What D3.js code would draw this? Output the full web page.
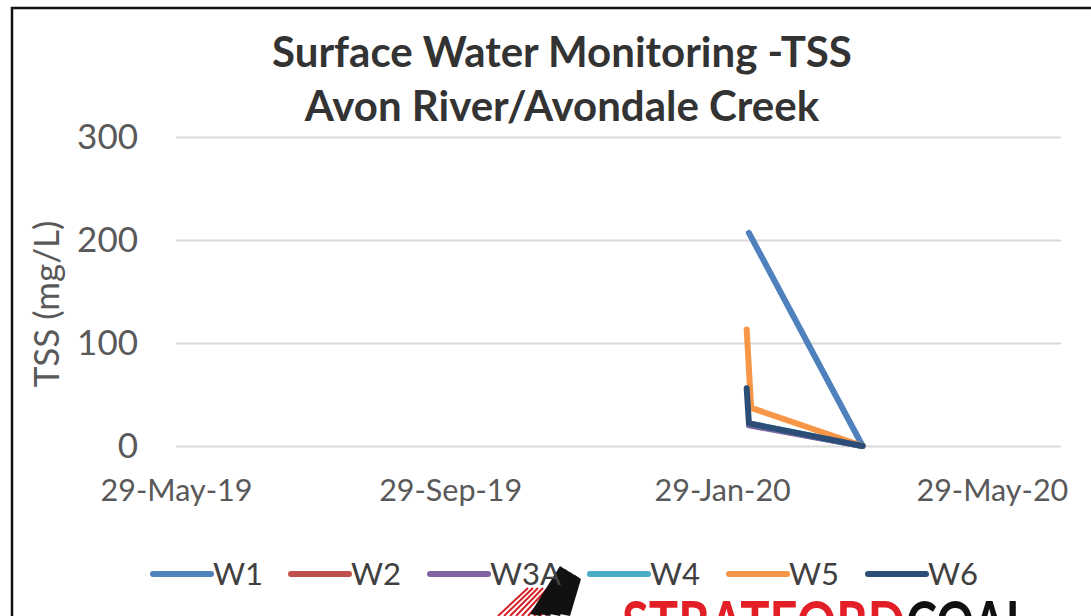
<!DOCTYPE html>
<html>
<head>
<meta charset="utf-8">
<script src="https://cdn.jsdelivr.net/npm/d3@7"></script>
<style>
  body { margin: 0; background: #fff; overflow: hidden; }
  text { font-family: Lato, "Open Sans", sans-serif; }
</style>
</head>
<body>
<script>
const w = 1091;
const h = 616;

// chart data
const seriesNames = ['W1', 'W2', 'W3A', 'W4', 'W5', 'W6'];
const seriesColors = ['#4f81bd', '#c0504d', '#8064a2', '#4bacc6', '#f79646', '#2c4d75'];

const w1Dates = ['2020-02-10', '2020-04-01'];
const w1Values = [207, 0];
const w2Dates = ['2020-02-10', '2020-04-01'];
const w2Values = [21, 0];
const w3aDates = ['2020-02-10', '2020-04-01'];
const w3aValues = [20, 0];
const w4Dates = ['2020-02-10', '2020-04-01'];
const w4Values = [22, 0];
const w5Dates = ['2020-02-09', '2020-02-11', '2020-04-01'];
const w5Values = [113, 37, 0];
const w6Dates = ['2020-02-09', '2020-02-10', '2020-04-01'];
const w6Values = [56, 22, 0];

const xTickDates = ['2019-05-29', '2019-09-29', '2020-01-29', '2020-05-29'];
const xDomain = ['2019-05-29', '2020-06-29'];
const yTicks = [0, 100, 200, 300];

const parse = d3.timeParse('%Y-%m-%d');
const allDates = [w1Dates, w2Dates, w3aDates, w4Dates, w5Dates, w6Dates];
const allValues = [w1Values, w2Values, w3aValues, w4Values, w5Values, w6Values];
const series = seriesNames.map((name, i) => ({
  name: name,
  color: seriesColors[i],
  points: allDates[i].map((d, j) => ({ date: parse(d), value: allValues[i][j] }))
}));

const svg = d3.select('body').append('svg').attr('width', w).attr('height', h);

// chart frame (runs off the right and bottom of the crop)
svg.append('rect')
  .attr('x', 12).attr('y', 8).attr('width', w + 20).attr('height', h + 20)
  .attr('fill', '#fff').attr('stroke', '#111').attr('stroke-width', 2.5);

const plotL = 176, plotR = 1061, plotT = 137, plotB = 446;

const x = d3.scaleTime().domain(xDomain.map(parse)).range([plotL, plotR]);
const y = d3.scaleLinear().domain([0, 300]).range([plotB, plotT]);

// gridlines
svg.append('g')
  .attr('transform', `translate(${plotL},0)`)
  .call(d3.axisLeft(y).tickValues(yTicks).tickSize(-(plotR - plotL)).tickFormat(''))
  .call(g => g.select('.domain').remove())
  .call(g => g.selectAll('line').attr('stroke', '#d9d9d9').attr('stroke-width', 2));

// y labels
svg.append('g')
  .attr('transform', `translate(${plotL},0)`)
  .call(d3.axisLeft(y).tickValues(yTicks).tickSize(0).tickPadding(38))
  .call(g => g.select('.domain').remove())
  .call(g => g.selectAll('text')
    .attr('fill', '#595959').attr('font-size', 35)
    .style('font-family', 'Lato, sans-serif'));

// x labels
svg.append('g')
  .attr('transform', `translate(0,${plotB})`)
  .call(d3.axisBottom(x).tickValues(xTickDates.map(parse)).tickSize(0).tickPadding(33)
    .tickFormat(d3.timeFormat('%d-%b-%y')))
  .call(g => g.select('.domain').remove())
  .call(g => g.selectAll('text')
    .attr('fill', '#595959').attr('font-size', 30.5)
    .style('font-family', 'Lato, sans-serif'));

// y axis title
svg.append('text')
  .attr('transform', 'translate(59,304) rotate(-90)')
  .attr('text-anchor', 'middle')
  .attr('fill', '#595959').attr('font-size', 35)
  .text('TSS (mg/L)');

// title
svg.append('text')
  .attr('x', 562).attr('y', 67)
  .attr('text-anchor', 'middle').attr('font-weight', 'bold')
  .attr('fill', '#333').attr('font-size', 42)
  .text('Surface Water Monitoring -TSS');
svg.append('text')
  .attr('x', 562).attr('y', 121)
  .attr('text-anchor', 'middle').attr('font-weight', 'bold')
  .attr('fill', '#333').attr('font-size', 42)
  .text('Avon River/Avondale Creek');

// lines
const line = d3.line().x(d => x(d.date)).y(d => y(d.value));
svg.append('g').selectAll('path').data(series).enter()
  .append('path')
  .attr('d', d => line(d.points))
  .attr('fill', 'none')
  .attr('stroke', d => d.color)
  .attr('stroke-width', 6)
  .attr('stroke-linecap', 'round')
  .attr('stroke-linejoin', 'round');

// logo bits peeking under the legend
const logo = svg.append('g');
const hatch = d3.range(0, 9);
logo.selectAll('.hatch').data(hatch).enter()
  .append('line')
  .attr('x1', d => 498 + d * 6).attr('y1', 616)
  .attr('x2', d => 528 + d * 5).attr('y2', 588)
  .attr('stroke', '#d42027').attr('stroke-width', 2);
const picks = d3.range(0, 4);
logo.selectAll('.pick').data(picks).enter()
  .append('path')
  .attr('d', d => `M${530 + d * 10},614 L${560 + d * 5},${566 + d * 3} L${566 + d * 5},${570 + d * 3} L${540 + d * 10},616 Z`)
  .attr('fill', '#111');
logo.append('text')
  .attr('x', 622).attr('y', 645)
  .attr('font-family', 'DejaVu Sans').attr('font-weight', 'bold').attr('font-size', 62)
  .attr('textLength', 283).attr('lengthAdjust', 'spacingAndGlyphs')
  .attr('fill', '#e21f26')
  .text('STRATFORD');
logo.append('text')
  .attr('x', 906).attr('y', 645)
  .attr('font-family', 'DejaVu Sans').attr('font-weight', 'bold').attr('font-size', 62)
  .attr('textLength', 124).attr('lengthAdjust', 'spacingAndGlyphs')
  .attr('fill', '#111')
  .text('COAL');

// legend
const legendX = [151, 289, 428, 588, 727, 866];
const legend = svg.append('g').selectAll('g').data(series).enter()
  .append('g')
  .attr('transform', (d, i) => `translate(${legendX[i]},574)`);
legend.append('line')
  .attr('x1', 2).attr('x2', 60)
  .attr('stroke', d => d.color).attr('stroke-width', 6).attr('stroke-linecap', 'round');
legend.append('text')
  .attr('x', 62).attr('y', 11)
  .attr('fill', '#404040').attr('font-size', 31)
  .text(d => d.name);
</script>
</body>
</html>
